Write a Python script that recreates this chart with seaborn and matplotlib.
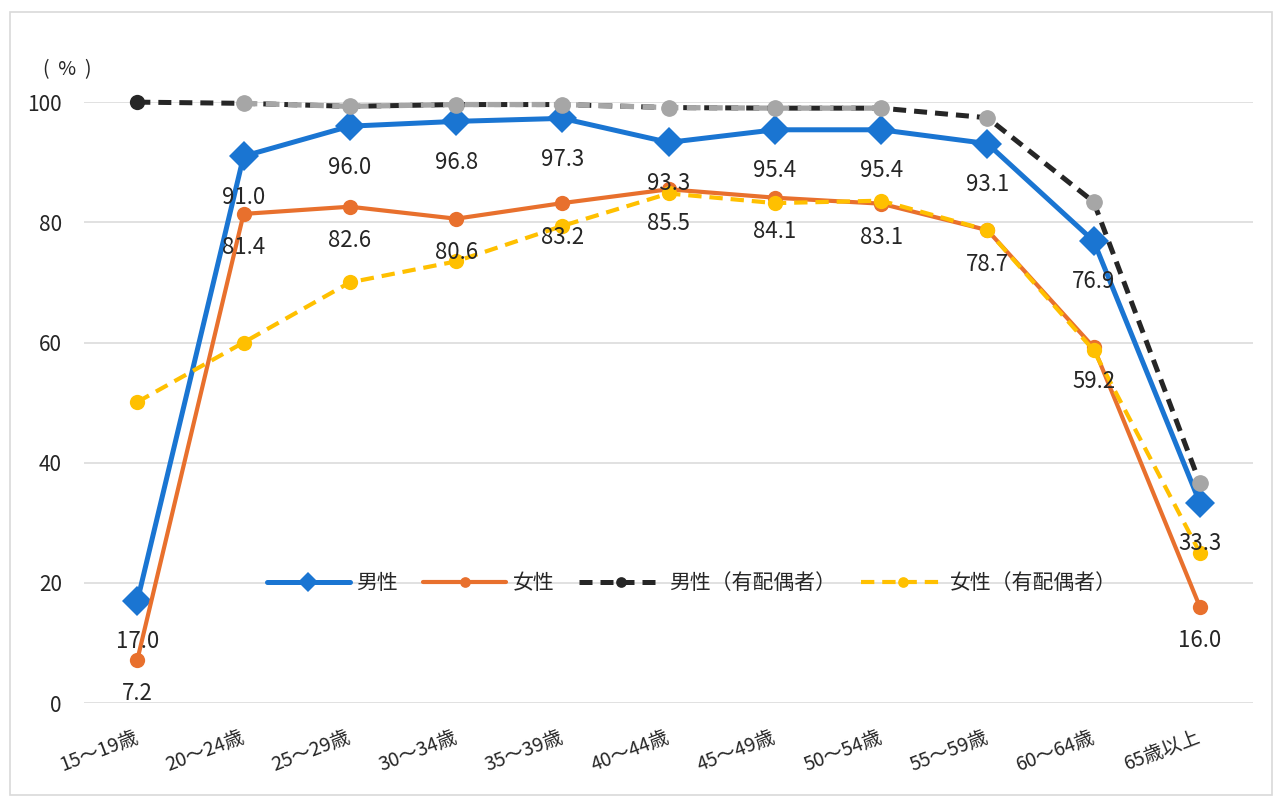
import numpy as np
import pandas as pd
import matplotlib
matplotlib.use('Agg')
import matplotlib.pyplot as plt
from matplotlib.patches import Rectangle
import seaborn as sns

# --- data ---
ages = ['15～19歳', '20～24歳', '25～29歳', '30～34歳', '35～39歳', '40～44歳',
        '45～49歳', '50～54歳', '55～59歳', '60～64歳', '65歳以上']
male = [17.0, 91.0, 96.0, 96.8, 97.3, 93.3, 95.4, 95.4, 93.1, 76.9, 33.3]
female = [7.2, 81.4, 82.6, 80.6, 83.2, 85.5, 84.1, 83.1, 78.7, 59.2, 16.0]
male_married = [100.0, 99.8, 99.3, 99.6, 99.6, 99.1, 99.0, 99.0, 97.4, 83.4, 36.6]
female_married = [50.1, 60.0, 70.0, 73.5, 79.4, 84.8, 83.2, 83.6, 78.7, 58.7, 25.0]
yticks = [0, 20, 40, 60, 80, 100]

names = ['男性', '女性', '男性（有配偶者）', '女性（有配偶者）']

df = pd.DataFrame({'x': np.arange(len(ages)), 'age': ages, 'male': male,
                   'female': female, 'male_married': male_married,
                   'female_married': female_married})

sns.set_theme(style='white')
plt.rcParams['font.family'] = ['Noto Sans CJK JP', 'DejaVu Sans']
txt = '#262626'

fig = plt.figure(figsize=(12.76, 7.98), dpi=100)
ax = fig.add_axes([0.066, 0.119, 0.916, 0.753])

blue = '#1a75d2'
orange = '#e8702d'
yellow = '#ffc000'
dark = '#262626'
grey = '#a6a6a6'

# Excel series order: male, female, male married, female married
sns.lineplot(data=df, x='x', y='male', ax=ax, color=blue, lw=3.6, marker='D',
             markersize=15, markeredgewidth=0, label=names[0], clip_on=False, zorder=3)
sns.lineplot(data=df, x='x', y='female', ax=ax, color=orange, lw=3.0, marker='o',
             markersize=11, markeredgewidth=0, label=names[1], clip_on=False, zorder=3)
sns.lineplot(data=df, x='x', y='male_married', ax=ax, color=dark, lw=3.6,
             dashes=(2.6, 1.6), marker='o', markersize=11, markeredgewidth=0,
             label=names[2], clip_on=False, zorder=3)
# grey-looking stretch of the married-male line
sub = df.iloc[1:8]
sns.lineplot(data=sub, x='x', y='male_married', ax=ax, color=grey, lw=3.8,
             dashes=(2.6, 1.6), legend=False, clip_on=False, zorder=3)
ax.plot(df['x'][1:], df['male_married'][1:], ls='none', marker='o', markersize=12,
        markeredgewidth=0, color=grey, clip_on=False, zorder=3)
sns.lineplot(data=df, x='x', y='female_married', ax=ax, color=yellow, lw=3.0,
             dashes=(3.2, 1.9), marker='o', markersize=11, markeredgewidth=0,
             label=names[3], clip_on=False, zorder=3)

# data labels below the markers
for i in range(len(ages)):
    ax.annotate(f'{male[i]:.1f}', (df['x'][i], male[i]), xytext=(0, -29.5),
                textcoords='offset points', ha='center', va='center',
                fontsize=16, color=txt, zorder=5)
    ax.annotate(f'{female[i]:.1f}', (df['x'][i], female[i]), xytext=(0, -24.5),
                textcoords='offset points', ha='center', va='center',
                fontsize=16, color=txt, zorder=5)

ax.set_xlim(-0.5, len(ages) - 0.5)
ax.set_ylim(0, 100)
ax.set_yticks(yticks)
ax.set_yticklabels([str(v) for v in yticks], fontsize=15, color=txt)
ax.set_xticks(df['x'])
ax.set_xticklabels(ages, fontsize=14, color=txt, rotation=21, ha='right',
                   va='center', rotation_mode='anchor')
ax.tick_params(axis='x', length=0, pad=24)
ax.tick_params(axis='y', length=0, pad=16)
ax.set_xlabel('')
ax.set_ylabel('')
ax.grid(axis='y', color='#d9d9d9', lw=1.1)
ax.grid(axis='x', visible=False)
for s in ax.spines.values():
    s.set_visible(False)

leg = ax.legend(loc='center', bbox_to_anchor=(0.52, 0.2), ncol=4, frameon=False,
                fontsize=15, handlelength=4.0, columnspacing=1.2, handletextpad=0.3,
                markerscale=0.7)
for t in leg.get_texts():
    t.set_color(txt)

fig.text(67 / 1276, 1 - 70 / 798, '(  %  )', ha='center', va='center', fontsize=14, color=txt)
fig.patches.append(Rectangle((10 / 1276, 3 / 798), 1262 / 1276, 783 / 798,
                             transform=fig.transFigure, fill=False,
                             edgecolor='#d9d9d9', lw=1.2))

fig.savefig('out.png', dpi=100)
